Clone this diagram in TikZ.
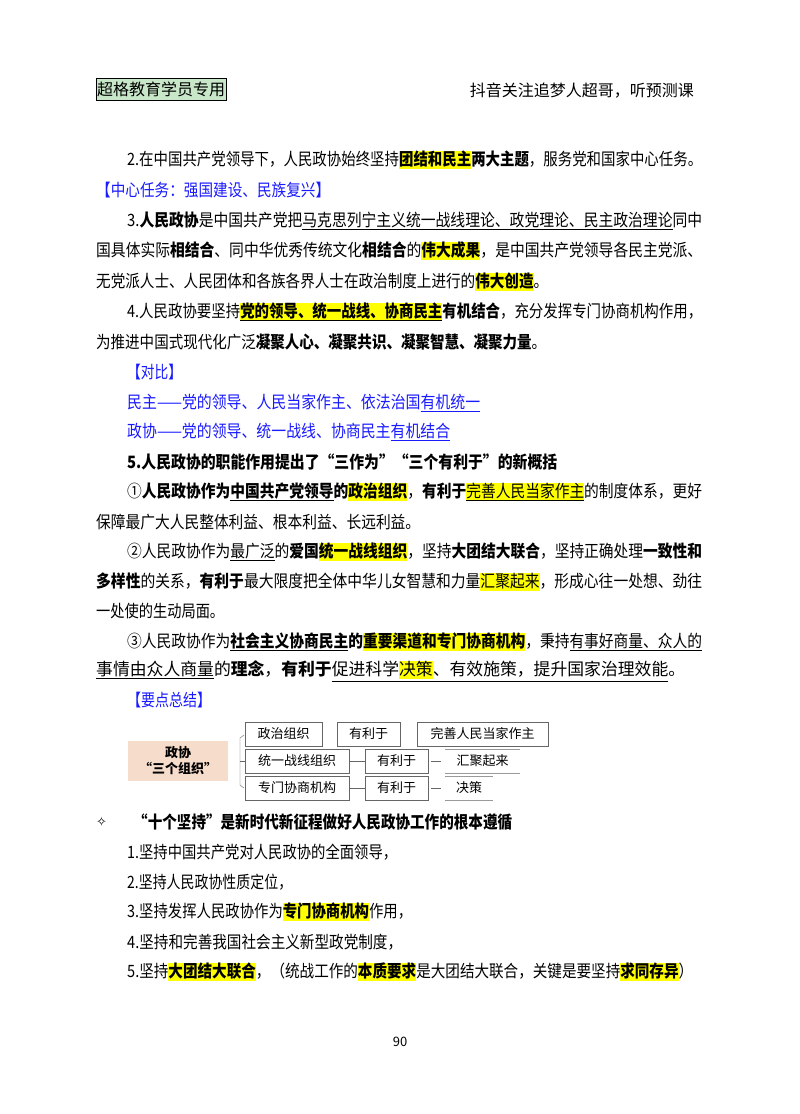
\documentclass[tikz,border=0pt]{standalone}
\usepackage{fontspec}
\usepackage{graphicx}
\setmainfont{Noto Sans CJK SC}
\newfontfamily\sym{DejaVu Sans}
\definecolor{hly}{HTML}{FFFF00}
\definecolor{blu}{HTML}{1A1AFF}
\definecolor{peach}{HTML}{F6DCCB}
\definecolor{grn}{HTML}{C8E6C8}
\newcommand\hl[1]{{\setlength\fboxsep{0pt}\colorbox{hly}{\rule[-4pt]{0pt}{18pt}#1}}}
\newcommand\ul[1]{\underline{#1}}
\newcommand\fw[2]{\resizebox{#1pt}{\height}{#2}}
\begin{document}
\begin{tikzpicture}[x=1pt,y=-1pt,
  ln/.style={anchor=west,inner sep=0pt,font=\fontsize{17}{20}\selectfont},
  bl/.style={ln,text=blu},
  dbox/.style={draw=black!60,minimum height=24pt,inner sep=2pt,font=\fontsize{13}{15}\selectfont,anchor=west},
  ]
\useasboundingbox (0,0) rectangle (800,1114);
\fill[white] (0,0) rectangle (800,1114);
\node[draw,fill=grn,inner sep=1pt,anchor=west,font=\fontsize{16}{18}\selectfont,minimum width=126pt,minimum height=22pt] (hd) at (96,89) {超格教育学员专用};
\node[ln,anchor=east,font=\fontsize{16}{18}\selectfont] (hr) at (694,91) {抖音关注追梦人超哥，听预测课};

\node[ln] (l1) at (127,160) {\fw{575}{2.在中国共产党领导下，人民政协始终坚持\hl{\textbf{团结和民主}}\textbf{两大主题}，服务党和国家中心任务。}};
\node[bl] (l2) at (96,190) {\fw{234}{【中心任务：强国建设、民族复兴】}};
\node[ln] (l3) at (127,221) {\fw{575}{3.\textbf{人民政协}是中国共产党把\ul{马克思列宁主义统一战线理论、政党理论、民主政治理论}同中}};
\node[ln] (l4) at (96,251) {\fw{606}{国具体实际\textbf{相结合}、同中华优秀传统文化\textbf{相结合}的\hl{\textbf{伟大成果}}，是中国共产党领导各民主党派、}};
\node[ln] (l5) at (96,282) {\fw{452}{无党派人士、人民团体和各族各界人士在政治制度上进行的\hl{\textbf{伟大创造}}。}};
\node[ln] (l6) at (127,312) {\fw{575}{4.人民政协要坚持\hl{\textbf{\ul{党的领导、统一战线、协商民主}}}\textbf{有机结合}，充分发挥专门协商机构作用，}};
\node[ln] (l7) at (96,342) {\fw{450}{为推进中国式现代化广泛\textbf{凝聚人心、凝聚共识、凝聚智慧、凝聚力量}。}};
\node[bl] (l8) at (127,372) {\fw{55}{【对比】}};
\node[bl] (l9) at (127,403) {\fw{353}{民主——党的领导、人民当家作主、依法治国\ul{有机统一}}};
\node[bl] (l10) at (127,432) {\fw{323}{政协——党的领导、统一战线、协商民主\ul{有机结合}}};
\node[ln] (l11) at (127,462) {\fw{430}{\textbf{5.人民政协的职能作用提出了“三作为”“三个有利于”的新概括}}};
\node[ln] (l12) at (127,492) {\fw{575}{①\textbf{人民政协作为\ul{中国共产党领导}的\hl{政治组织}}，\textbf{有利于}\hl{\ul{完善人民当家作主}}的制度体系，更好}};
\node[ln] (l13) at (96,522) {\fw{324}{保障最广大人民整体利益、根本利益、长远利益。}};
\node[ln] (l14) at (127,552) {\fw{575}{②人民政协作为\ul{最广泛}的\textbf{爱国\hl{统一战线组织}}，坚持\textbf{大团结大联合}，坚持正确处理\textbf{一致性和}}};
\node[ln] (l15) at (96,582) {\fw{606}{\textbf{多样性}的关系，\textbf{有利于}最大限度把全体中华儿女智慧和力量\hl{汇聚起来}，形成心往一处想、劲往}};
\node[ln] (l16) at (96,611) {\fw{128}{一处使的生动局面。}};
\node[ln] (l17) at (127,642) {\fw{575}{③人民政协作为\textbf{\ul{社会主义协商民主}的\hl{重要渠道和专门协商机构}}，秉持\ul{有事好商量、众人的}}};
\node[ln] (l18) at (96,671) {\fw{589}{\ul{事情由众人商量}的\textbf{理念}，\textbf{有利于}\ul{促进科学\hl{决策}、有效施策，提升国家治理效能}。}};
\node[bl] (l19) at (127,700) {\fw{84}{【要点总结】}};

% diagram
\node[fill=peach,minimum width=100pt,minimum height=40pt,inner sep=0pt,align=center,font=\fontsize{13}{16}\selectfont\bfseries] (zx) at (178,761) {政协\\“三个组织”};
\draw[black!60] (244,735) -- (240,738) -- (240,785) -- (244,788);
\coordinate (br) at (240,761);
\node[dbox,minimum width=77pt] (a1) at (245,734) {政治组织};
\node[dbox,minimum width=63pt] (a2) at (337,734) {有利于};
\node[dbox,minimum width=131pt] (a3) at (417,734) {完善人民当家作主};
\node[dbox,minimum width=104pt] (b1) at (245,761) {统一战线组织};
\node[dbox,minimum width=63pt] (b2) at (365,761) {有利于};
\node[minimum width=75pt,minimum height=24pt,inner sep=2pt,anchor=west,font=\fontsize{13}{15}\selectfont] (b3) at (445,761) {汇聚起来};
\draw[black!40] (b3.north west) -- (b3.north east) (b3.south west) -- (b3.south east);
\node[dbox,minimum width=104pt] (c1) at (245,788) {专门协商机构};
\node[dbox,minimum width=63pt] (c2) at (365,788) {有利于};
\node[minimum width=48pt,minimum height=24pt,inner sep=2pt,anchor=west,font=\fontsize{13}{15}\selectfont] (c3) at (445,788) {决策};
\draw[black!40] (c3.north west) -- (c3.north east) (c3.south west) -- (c3.south east);
\draw[black!60] (br) -- (b1.west);
\draw[black!60] (b1) -- (b2) (c1) -- (c2);
\draw[black!60] ([xshift=3pt]b2.east) -- ([xshift=-4pt]b3.west);
\draw[black!60] ([xshift=3pt]c2.east) -- ([xshift=-4pt]c3.west);

\node[ln,font=\sym\fontsize{13}{15}\selectfont] (dm) at (96,822) {✧};
\node[ln] (m0) at (133,822) {\fw{379}{\textbf{“十个坚持”是新时代新征程做好人民政协工作的根本遵循}}};
\node[ln] (m1) at (127,852) {\fw{270}{1.坚持中国共产党对人民政协的全面领导，}};
\node[ln] (m2) at (127,882) {\fw{165}{2.坚持人民政协性质定位，}};
\node[ln] (m3) at (127,912) {\fw{285}{3.坚持发挥人民政协作为\hl{\textbf{专门协商机构}}作用，}};
\node[ln] (m4) at (127,942) {\fw{275}{4.坚持和完善我国社会主义新型政党制度，}};
\node[ln] (m5) at (127,972) {\fw{566}{5.坚持\hl{\textbf{大团结大联合}}，（统战工作的\hl{\textbf{本质要求}}是大团结大联合，关键是要坚持\hl{\textbf{求同存异}}）}};
\node[font=\fontsize{13}{15}\selectfont] (pg) at (400,1042) {90};
\end{tikzpicture}
\end{document}
